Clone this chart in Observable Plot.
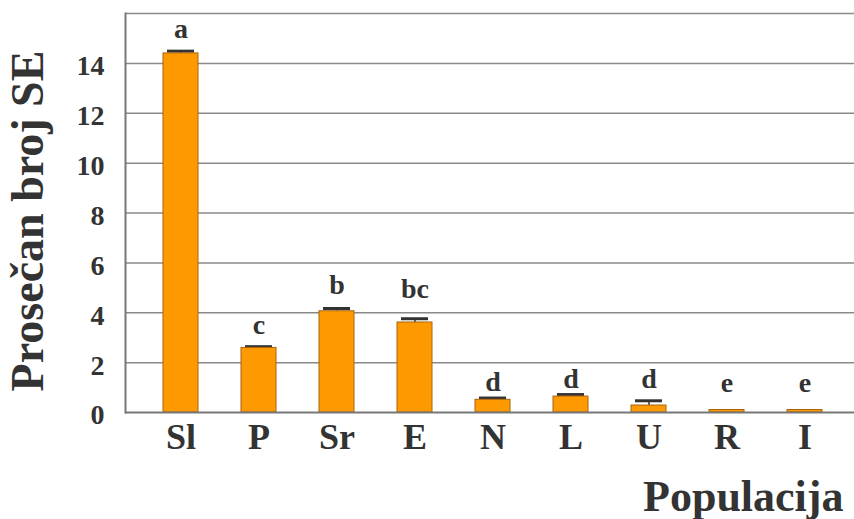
<!DOCTYPE html>
<html>
<head>
<meta charset="utf-8">
<script src="https://cdn.jsdelivr.net/npm/d3@7"></script>
<script src="https://cdn.jsdelivr.net/npm/@observablehq/plot@0.6"></script>
<style>
  html, body { margin: 0; padding: 0; background: #fff; }
</style>
</head>
<body>
<div id="chart"></div>
<script>
const populations = ["Sl", "P", "Sr", "E", "N", "L", "U", "R", "I"];
const means = [14.4, 2.59, 4.06, 3.61, 0.51, 0.64, 0.28, 0.1, 0.1];
const errors = [0.09, 0.05, 0.11, 0.15, 0.07, 0.08, 0.19, 0, 0];
const letters = ["a", "c", "b", "bc", "d", "d", "d", "e", "e"];
const letterAt = [15.0, 3.15, 4.76, 4.59, 0.87, 0.99, 0.99, 0.83, 0.83];
const yTicks = [0, 2, 4, 6, 8, 10, 12, 14];
const gridValues = [2, 4, 6, 8, 10, 12, 14, 16];

const data = populations.map((p, i) => ({
  pop: p, mean: means[i], se: errors[i], top: means[i] + errors[i],
  letter: letters[i], ly: letterAt[i]
}));
const errData = data.filter(d => d.se > 0);

const FONT = "'Liberation Serif', 'Times New Roman', serif";
const TXT = "#333333";

const chart = Plot.plot({
  width: 854,
  height: 519,
  marginTop: 13,
  marginBottom: 107,
  marginLeft: 125,
  marginRight: 0,
  style: { fontFamily: FONT, color: TXT, background: "#fff" },
  x: { domain: populations, range: [125, 861], paddingInner: 0.55, paddingOuter: 0.48, label: null },
  y: { domain: [0, 16], label: null },
  marks: [
    Plot.ruleY(gridValues, { stroke: "#8a8a8a", strokeWidth: 1.5 }),
    Plot.axisY({ ticks: yTicks, tickSize: 0, tickPadding: 21, dy: 3, fontSize: 28, fontWeight: "bold", fill: TXT, label: null }),
    Plot.axisX({ tickSize: 0, tickPadding: 11, fontSize: 36, fontWeight: "bold", fill: TXT, label: null }),
    Plot.ruleX(errData, { x: "pop", y1: "mean", y2: "top", stroke: "#333", strokeWidth: 1.5 }),
    Plot.tickY(errData, { x: "pop", y: "top", stroke: "#333", strokeWidth: 3, inset: 4 }),
    Plot.barY(data, { x: "pop", y: "mean", fill: "#ff9900", stroke: "#a8650f", strokeWidth: 1 }),
    Plot.ruleY([0], { stroke: "#777", strokeWidth: 2 }),
    Plot.frame({ anchor: "left", stroke: "#777", strokeWidth: 2 }),
    Plot.text(data, { x: "pop", y: "ly", text: "letter", lineAnchor: "bottom", fontSize: 28, fontWeight: "bold", fill: TXT }),
    Plot.text(["Prosečan broj SE"], { frameAnchor: "left", textAnchor: "middle", lineAnchor: "middle", rotate: -90, dx: -97, dy: 8, fontSize: 46, fontWeight: "bold", fill: TXT }),
    Plot.text(["Populacija"], { frameAnchor: "bottom-right", textAnchor: "end", lineAnchor: "bottom", dx: -11, dy: 98, fontSize: 44, fontWeight: "bold", fill: TXT })
  ]
});
document.getElementById("chart").appendChild(chart);
</script>
</body>
</html>
